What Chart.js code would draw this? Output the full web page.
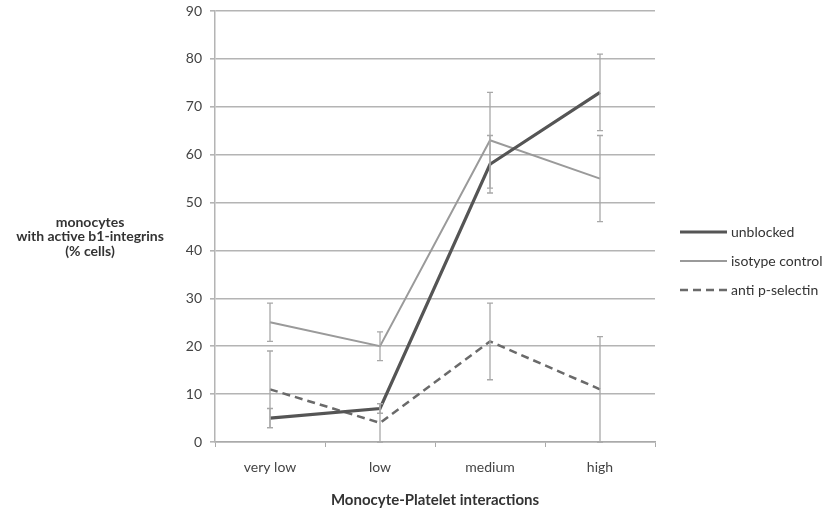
<!DOCTYPE html>
<html>
<head>
<meta charset="utf-8">
<script src="https://cdn.jsdelivr.net/npm/chart.js@4"></script>
<style>
  html, body { margin: 0; padding: 0; background: #fff; }
  #wrap { width: 828px; height: 513px; }
  canvas { filter: blur(0.6px); }
</style>
</head>
<body>
<div id="wrap"><canvas id="c" width="828" height="513"></canvas></div>
<script>
// Categories and series (% cells)
const categories = ['very low', 'low', 'medium', 'high'];
const unblocked = [5, 7, 58, 73];
const unblockedErr = [2, 1, 6, 8];
const isotype = [25, 20, 63, 55];
const isotypeErr = [4, 3, 10, 9];
const antiPSelectin = [11, 4, 21, 11];
const antiPSelectinErr = [8, 4, 8, 11];
const yTicks = [0, 10, 20, 30, 40, 50, 60, 70, 80, 90];

const seriesNames = ['unblocked', 'isotype control', 'anti p-selectin'];
const yTitleLines = ['monocytes', 'with active b1-integrins', '(% cells)'];
const xTitle = 'Monocyte-Platelet interactions';

const FONT = 'Lato, "Open Sans", sans-serif';

// Error bars drawn through the chart's own scales
const errorBars = {
  id: 'errorBars',
  afterDatasetsDraw(chart) {
    const { ctx, scales: { x, y } } = chart;
    ctx.save();
    ctx.strokeStyle = '#a8a8a8';
    ctx.lineWidth = 1.3;
    chart.data.datasets.forEach(ds => {
      ds.data.forEach((v, i) => {
        const e = ds.errors[i];
        const px = x.getPixelForValue(i);
        const top = y.getPixelForValue(v + e);
        const bot = y.getPixelForValue(Math.max(0, v - e));
        ctx.beginPath();
        ctx.moveTo(px, top); ctx.lineTo(px, bot);
        ctx.moveTo(px - 3, top); ctx.lineTo(px + 3, top);
        ctx.moveTo(px - 3, bot); ctx.lineTo(px + 3, bot);
        ctx.stroke();
      });
    });
    ctx.restore();
  }
};

// Horizontal y title and right-hand legend
const extras = {
  id: 'extras',
  afterDraw(chart) {
    const { ctx } = chart;
    ctx.save();
    ctx.fillStyle = '#333';
    ctx.font = 'bold 14px ' + FONT;
    ctx.textAlign = 'center';
    ctx.textBaseline = 'middle';
    yTitleLines.forEach((t, i) => ctx.fillText(t, 90, 222 + i * 14.5));

    ctx.textAlign = 'left';
    ctx.font = '14px ' + FONT;
    chart.data.datasets.forEach((ds, i) => {
      const ly = 232 + i * 29;
      ctx.strokeStyle = ds.borderColor;
      ctx.lineWidth = ds.borderWidth;
      ctx.setLineDash(ds.borderDash || []);
      ctx.beginPath();
      ctx.moveTo(680, ly); ctx.lineTo(727, ly);
      ctx.stroke();
      ctx.setLineDash([]);
      ctx.fillStyle = '#333';
      ctx.fillText(ds.label, 731, ly);
    });
    ctx.restore();
  }
};

new Chart(document.getElementById('c'), {
  type: 'line',
  data: {
    labels: categories,
    datasets: [
      { label: seriesNames[0], data: unblocked, errors: unblockedErr,
        borderColor: '#555555', borderWidth: 3.2, pointRadius: 0, tension: 0 },
      { label: seriesNames[1], data: isotype, errors: isotypeErr,
        borderColor: '#9a9a9a', borderWidth: 2, pointRadius: 0, tension: 0 },
      { label: seriesNames[2], data: antiPSelectin, errors: antiPSelectinErr,
        borderColor: '#6a6a6a', borderWidth: 2.5, borderDash: [8, 5], pointRadius: 0, tension: 0 }
    ]
  },
  options: {
    responsive: false,
    animation: false,
    layout: { padding: { top: 11, right: 173, left: 0, bottom: 0 } },
    plugins: { legend: { display: false }, tooltip: { enabled: false } },
    scales: {
      x: {
        offset: true,
        afterFit(s) { s.height = 71; },
        grid: { display: true, drawOnChartArea: false, offset: true, tickLength: 5, color: '#aaa' },
        border: { color: '#aaa', width: 1.5 },
        ticks: { color: '#444', font: { family: FONT, size: 14 }, padding: 12 },
        title: { display: true, text: xTitle, color: '#333', font: { family: FONT, size: 15, weight: 'bold' }, padding: { top: 4 } }
      },
      y: {
        min: 0, max: 90,
        afterFit(s) { s.width = 215; s.paddingTop = 0; },
        afterBuildTicks(s) { s.ticks = yTicks.map(v => ({ value: v })); },
        grid: { color: '#b4b4b4', lineWidth: 1.6, tickLength: 5 },
        border: { color: '#b4b4b4', width: 1.5 },
        ticks: { color: '#444', font: { family: FONT, size: 14, lineHeight: 0.8 }, padding: 8 }
      }
    }
  },
  plugins: [errorBars, extras]
});
</script>
</body>
</html>
